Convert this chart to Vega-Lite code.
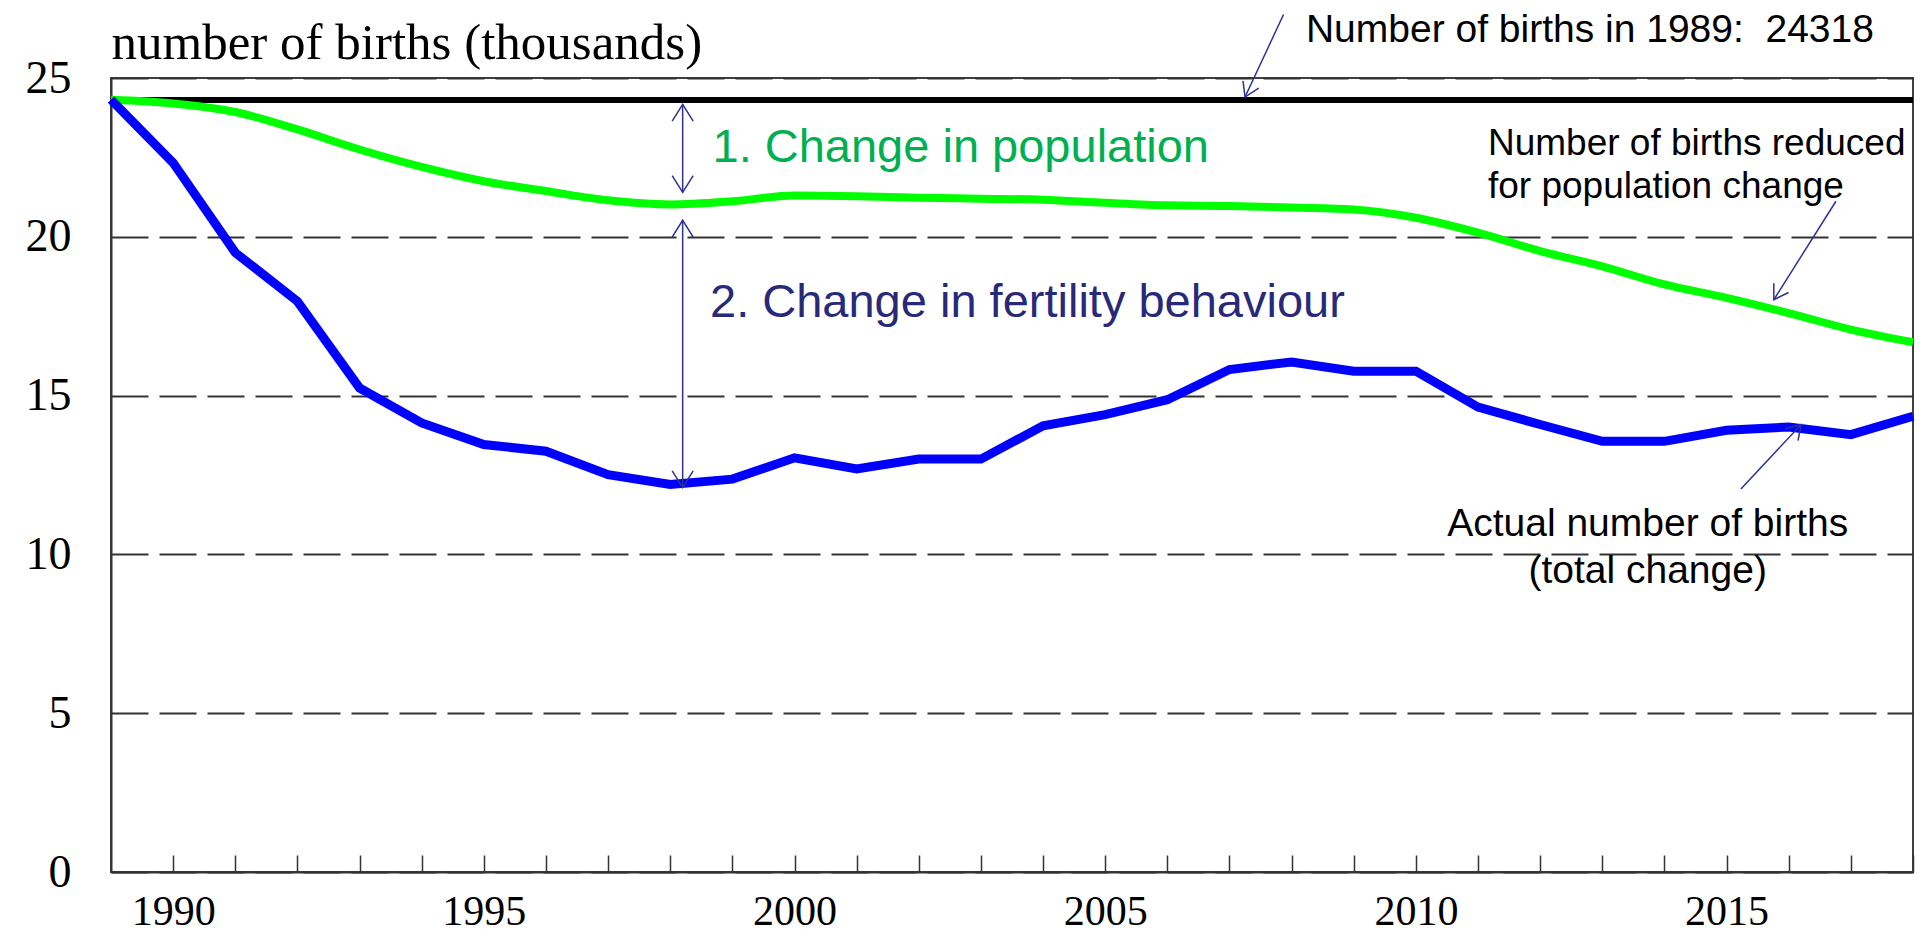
{
  "$schema": "https://vega.github.io/schema/vega-lite/v6.json",
  "width": 1802,
  "height": 794,
  "autosize": {"type": "none"},
  "padding": {"left": 111, "top": 78, "right": 15, "bottom": 62},
  "background": "white",
  "view": {"stroke": "#404040", "strokeWidth": 2},
  "config": {
    "axis": {"labelFont": "Liberation Serif", "labelColor": "black", "titleColor": "black", "domainColor": "#333333", "domainWidth": 2}
  },
  "datasets": {
    "births": [
      {"year": 1989, "reduced": 24.318, "actual": 24.318},
      {"year": 1990, "reduced": 24.2, "actual": 22.33},
      {"year": 1991, "reduced": 23.93, "actual": 19.5},
      {"year": 1992, "reduced": 23.38, "actual": 17.97},
      {"year": 1993, "reduced": 22.75, "actual": 15.24},
      {"year": 1994, "reduced": 22.2, "actual": 14.14},
      {"year": 1995, "reduced": 21.75, "actual": 13.46},
      {"year": 1996, "reduced": 21.44, "actual": 13.25},
      {"year": 1997, "reduced": 21.15, "actual": 12.51},
      {"year": 1998, "reduced": 21.02, "actual": 12.2},
      {"year": 1999, "reduced": 21.12, "actual": 12.37},
      {"year": 2000, "reduced": 21.3, "actual": 13.04},
      {"year": 2001, "reduced": 21.28, "actual": 12.69},
      {"year": 2002, "reduced": 21.23, "actual": 13.0},
      {"year": 2003, "reduced": 21.2, "actual": 13.0},
      {"year": 2004, "reduced": 21.17, "actual": 14.05},
      {"year": 2005, "reduced": 21.07, "actual": 14.4},
      {"year": 2006, "reduced": 20.99, "actual": 14.87},
      {"year": 2007, "reduced": 20.97, "actual": 15.82},
      {"year": 2008, "reduced": 20.92, "actual": 16.06},
      {"year": 2009, "reduced": 20.86, "actual": 15.77},
      {"year": 2010, "reduced": 20.6, "actual": 15.77},
      {"year": 2011, "reduced": 20.13, "actual": 14.64},
      {"year": 2012, "reduced": 19.55, "actual": 14.09},
      {"year": 2013, "reduced": 19.07, "actual": 13.56},
      {"year": 2014, "reduced": 18.5, "actual": 13.56},
      {"year": 2015, "reduced": 18.08, "actual": 13.91},
      {"year": 2016, "reduced": 17.6, "actual": 14.01},
      {"year": 2017, "reduced": 17.08, "actual": 13.77},
      {"year": 2018, "reduced": 16.68, "actual": 14.35}
    ],
    "arrows": [
      {"id": "pop", "x0": 1998.2, "y0": 24.17, "x1": 1998.2, "y1": 21.4},
      {"id": "fert", "x0": 1998.2, "y0": 20.52, "x1": 1998.2, "y1": 12.1},
      {"id": "base", "x0": 2007.87, "y0": 27.0, "x1": 2007.25, "y1": 24.4},
      {"id": "reduced", "x0": 2016.76, "y0": 21.12, "x1": 2015.76, "y1": 18.02},
      {"id": "actual", "x0": 2015.23, "y0": 12.06, "x1": 2016.2, "y1": 14.09}
    ],
    "notes": [
      {"note": "pop", "year": 1998.68, "value": 22.37, "text": "1. Change in population"},
      {"note": "fert", "year": 1998.64, "value": 17.46, "text": "2. Change in fertility behaviour"},
      {"note": "base", "year": 2008.23, "value": 26.12, "text": "Number of births in 1989:\u00a0 24318"},
      {"note": "reduced", "year": 2011.16, "value": 22.59, "text": ["Number of births reduced", "for population change"]},
      {"note": "actual", "year": 2013.73, "value": 10.59, "text": ["Actual number of births", "(total change)"]}
    ]
  },
  "layer": [
    {
      "data": {"name": "births"},
      "mark": {"type": "rule", "color": "black", "strokeWidth": 5},
      "encoding": {
        "y": {
          "datum": 24.318, "type": "quantitative",
          "scale": {"domain": [0, 25], "nice": false},
          "axis": {
            "title": "number of births (thousands)",
            "titleAngle": 0,
            "titleAlign": "left",
            "titleBaseline": "alphabetic",
            "titleX": 0,
            "titleY": -20,
            "titleFont": "Liberation Serif",
            "titleFontSize": 51,
            "titleFontWeight": "normal",
            "values": [0, 5, 10, 15, 20, 25],
            "grid": true,
            "gridDash": [37, 11],
            "gridColor": "#333333",
            "gridWidth": 2,
            "ticks": false,
            "labelPadding": 40,
            "labelFontSize": 46
          }
        }
      }
    },
    {
      "data": {"name": "births"},
      "mark": {"type": "line", "color": "#00FF00", "strokeWidth": 8, "interpolate": "monotone"},
      "encoding": {
        "x": {
          "field": "year", "type": "quantitative",
          "scale": {"domain": [1989, 2018], "nice": false, "zero": false},
          "axis": {
            "title": null,
            "values": [1990, 1991, 1992, 1993, 1994, 1995, 1996, 1997, 1998, 1999, 2000, 2001, 2002, 2003, 2004, 2005, 2006, 2007, 2008, 2009, 2010, 2011, 2012, 2013, 2014, 2015, 2016, 2017, 2018],
            "format": "d",
            "labelExpr": "datum.value % 5 === 0 ? datum.label : ''",
            "grid": false,
            "ticks": true,
            "tickSize": -17,
            "tickColor": "#333333",
            "tickWidth": 1.5,
            "labelPadding": 36,
            "labelFontSize": 42,
            "labelFlush": false,
            "labelOverlap": false
          }
        },
        "y": {"field": "reduced", "type": "quantitative"}
      }
    },
    {
      "data": {"name": "births"},
      "mark": {"type": "line", "color": "#0000FF", "strokeWidth": 9},
      "encoding": {
        "x": {"field": "year", "type": "quantitative"},
        "y": {"field": "actual", "type": "quantitative"}
      }
    },
    {
      "data": {"name": "arrows"},
      "mark": {"type": "rule", "color": "#2E3192", "strokeWidth": 1.5},
      "encoding": {
        "x": {"field": "x0", "type": "quantitative"},
        "x2": {"field": "x1"},
        "y": {"field": "y0", "type": "quantitative"},
        "y2": {"field": "y1"}
      }
    },
    {
      "data": {"name": "arrows"},
      "transform": [{"filter": "datum.id === 'pop' || datum.id === 'fert'"}],
      "mark": {"type": "point", "shape": "M -1 1.6 L 0 0 L 1 1.6", "filled": false, "stroke": "#2E3192", "strokeWidth": 1.5, "size": 441, "angle": 0, "opacity": 1},
      "encoding": {
        "x": {"field": "x0", "type": "quantitative"},
        "y": {"field": "y0", "type": "quantitative"}
      }
    },
    {
      "data": {"name": "arrows"},
      "transform": [{"filter": "datum.id === 'pop' || datum.id === 'fert'"}],
      "mark": {"type": "point", "shape": "M -1 1.6 L 0 0 L 1 1.6", "filled": false, "stroke": "#2E3192", "strokeWidth": 1.5, "size": 441, "angle": 180, "opacity": 1},
      "encoding": {
        "x": {"field": "x1", "type": "quantitative"},
        "y": {"field": "y1", "type": "quantitative"}
      }
    },
    {
      "data": {"name": "arrows"},
      "transform": [{"filter": "datum.id === 'base'"}],
      "mark": {"type": "point", "shape": "M -1 1.6 L 0 0 L 1 1.6", "filled": false, "stroke": "#2E3192", "strokeWidth": 1.5, "size": 300, "angle": -155, "opacity": 1},
      "encoding": {
        "x": {"field": "x1", "type": "quantitative"},
        "y": {"field": "y1", "type": "quantitative"}
      }
    },
    {
      "data": {"name": "arrows"},
      "transform": [{"filter": "datum.id === 'reduced'"}],
      "mark": {"type": "point", "shape": "M -1 1.6 L 0 0 L 1 1.6", "filled": false, "stroke": "#2E3192", "strokeWidth": 1.5, "size": 300, "angle": -148, "opacity": 1},
      "encoding": {
        "x": {"field": "x1", "type": "quantitative"},
        "y": {"field": "y1", "type": "quantitative"}
      }
    },
    {
      "data": {"name": "arrows"},
      "transform": [{"filter": "datum.id === 'actual'"}],
      "mark": {"type": "point", "shape": "M -1 1.6 L 0 0 L 1 1.6", "filled": false, "stroke": "#2E3192", "strokeWidth": 1.5, "size": 300, "angle": 43, "opacity": 1},
      "encoding": {
        "x": {"field": "x1", "type": "quantitative"},
        "y": {"field": "y1", "type": "quantitative"}
      }
    },
    {
      "data": {"name": "notes"},
      "transform": [{"filter": "datum.note === 'pop'"}],
      "mark": {"type": "text", "font": "Liberation Sans", "fontSize": 47, "color": "#00B050", "align": "left", "baseline": "alphabetic"},
      "encoding": {
        "x": {"field": "year", "type": "quantitative"},
        "y": {"field": "value", "type": "quantitative"},
        "text": {"field": "text", "type": "nominal"}
      }
    },
    {
      "data": {"name": "notes"},
      "transform": [{"filter": "datum.note === 'fert'"}],
      "mark": {"type": "text", "font": "Liberation Sans", "fontSize": 47, "color": "#29297A", "align": "left", "baseline": "alphabetic"},
      "encoding": {
        "x": {"field": "year", "type": "quantitative"},
        "y": {"field": "value", "type": "quantitative"},
        "text": {"field": "text", "type": "nominal"}
      }
    },
    {
      "data": {"name": "notes"},
      "transform": [{"filter": "datum.note === 'base'"}],
      "mark": {"type": "text", "font": "Liberation Sans", "fontSize": 39, "color": "black", "align": "left", "baseline": "alphabetic"},
      "encoding": {
        "x": {"field": "year", "type": "quantitative"},
        "y": {"field": "value", "type": "quantitative"},
        "text": {"field": "text", "type": "nominal"}
      }
    },
    {
      "data": {"name": "notes"},
      "transform": [{"filter": "datum.note === 'reduced'"}],
      "mark": {"type": "text", "font": "Liberation Sans", "fontSize": 37, "color": "black", "align": "left", "baseline": "alphabetic", "lineHeight": 43},
      "encoding": {
        "x": {"field": "year", "type": "quantitative"},
        "y": {"field": "value", "type": "quantitative"},
        "text": {"field": "text", "type": "nominal"}
      }
    },
    {
      "data": {"name": "notes"},
      "transform": [{"filter": "datum.note === 'actual'"}],
      "mark": {"type": "text", "font": "Liberation Sans", "fontSize": 39, "color": "black", "align": "center", "baseline": "alphabetic", "lineHeight": 47},
      "encoding": {
        "x": {"field": "year", "type": "quantitative"},
        "y": {"field": "value", "type": "quantitative"},
        "text": {"field": "text", "type": "nominal"}
      }
    }
  ]
}
